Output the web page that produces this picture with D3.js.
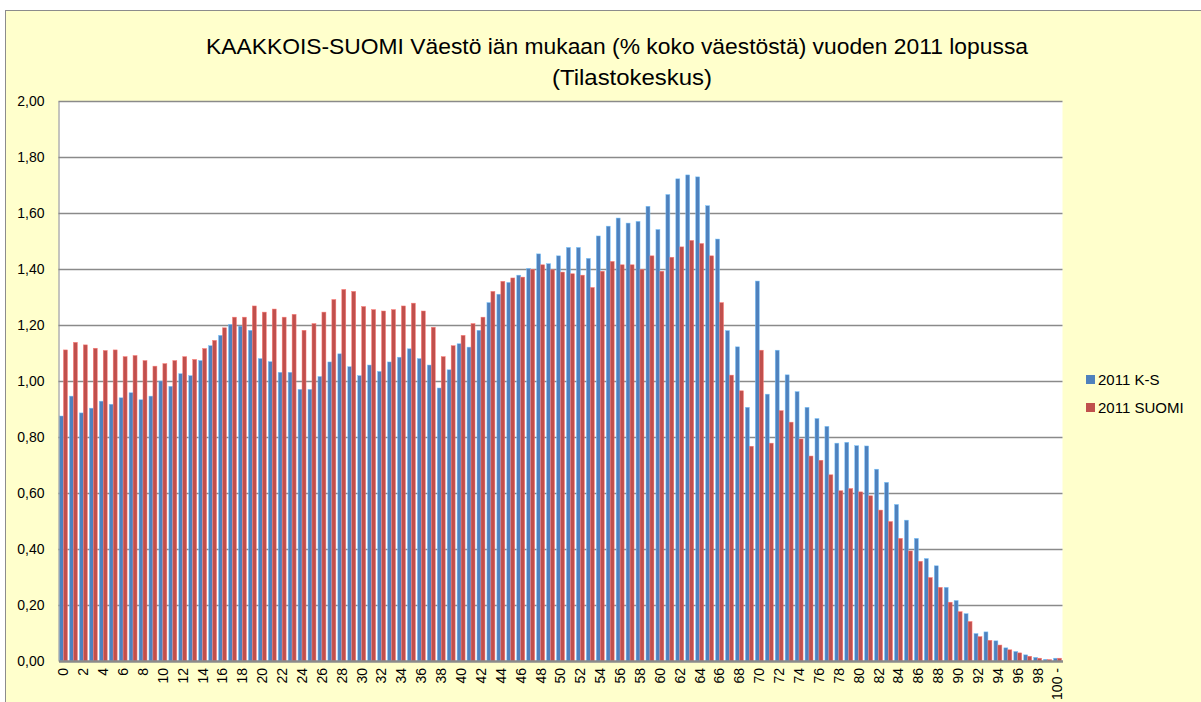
<!DOCTYPE html>
<html>
<head>
<meta charset="utf-8">
<script src="https://cdn.jsdelivr.net/npm/d3@7"></script>
<style>
  body { margin: 0; background: #fff; }
  text { font-family: "Liberation Sans", Arial, sans-serif; fill: #000; }
</style>
</head>
<body>
<div id="chart"></div>
<script>
"use strict";

const ages = d3.range(0, 101);
const ageLabels = ages.map(a => a === 100 ? "100 -" : String(a));

const seriesNames = ["2011 K-S", "2011 SUOMI"];

const valuesKS = [
  0.875, 0.946, 0.886, 0.903, 0.928, 0.917, 0.940, 0.958, 0.933, 0.946,
  1.000, 0.981, 1.026, 1.019, 1.073, 1.126, 1.163, 1.202, 1.196, 1.181,
  1.080, 1.069, 1.031, 1.031, 0.970, 0.970, 1.016, 1.068, 1.097, 1.051,
  1.019, 1.057, 1.034, 1.068, 1.085, 1.115, 1.080, 1.057, 0.975, 1.040,
  1.133, 1.121, 1.181, 1.280, 1.310, 1.352, 1.378, 1.402, 1.454, 1.419,
  1.447, 1.477, 1.477, 1.438, 1.518, 1.553, 1.582, 1.564, 1.570, 1.624,
  1.541, 1.666, 1.722, 1.736, 1.729, 1.626, 1.507, 1.180, 1.122, 0.906,
  1.357, 0.953, 1.110, 1.022, 0.962, 0.906, 0.866, 0.838, 0.778, 0.781,
  0.769, 0.768, 0.685, 0.638, 0.559, 0.503, 0.438, 0.366, 0.340, 0.263,
  0.216, 0.169, 0.098, 0.104, 0.072, 0.047, 0.034, 0.022, 0.013, 0.006,
  0.010
];

const valuesSuomi = [
  1.111, 1.138, 1.129, 1.117, 1.109, 1.111, 1.087, 1.091, 1.073, 1.053,
  1.062, 1.073, 1.087, 1.077, 1.116, 1.145, 1.190, 1.228, 1.228, 1.268,
  1.246, 1.257, 1.228, 1.238, 1.181, 1.205, 1.246, 1.291, 1.327, 1.320,
  1.266, 1.255, 1.250, 1.255, 1.268, 1.278, 1.250, 1.192, 1.087, 1.126,
  1.163, 1.205, 1.228, 1.320, 1.356, 1.368, 1.371, 1.398, 1.415, 1.397,
  1.389, 1.383, 1.378, 1.334, 1.392, 1.427, 1.415, 1.415, 1.398, 1.447,
  1.392, 1.442, 1.479, 1.502, 1.491, 1.447, 1.280, 1.021, 0.965, 0.767,
  1.110, 0.778, 0.894, 0.853, 0.793, 0.732, 0.717, 0.665, 0.608, 0.616,
  0.604, 0.590, 0.539, 0.498, 0.438, 0.393, 0.356, 0.298, 0.263, 0.210,
  0.176, 0.141, 0.087, 0.074, 0.057, 0.040, 0.029, 0.017, 0.010, 0.005,
  0.010
];

const yTicks = [0, 0.2, 0.4, 0.6, 0.8, 1.0, 1.2, 1.4, 1.6, 1.8, 2.0];

const colors = ["#4F81BD", "#C0504D"];
const titleLines = [
  "KAAKKOIS-SUOMI Väestö iän mukaan (% koko väestöstä) vuoden 2011 lopussa",
  "(Tilastokeskus)"
];

const W = 1201, H = 702;
const plot = { left: 58.5, right: 1062.5, top: 101, bottom: 661 };

const svg = d3.select("#chart")
  .append("svg")
  .attr("width", W)
  .attr("height", H);

// chart area
svg.append("rect")
  .attr("x", 5.5).attr("y", 10.5)
  .attr("width", W).attr("height", H)
  .attr("fill", "#FFFFCC")
  .attr("stroke", "#8c8c8c")
  .attr("stroke-width", 1);

svg.append("rect")
  .attr("x", plot.left).attr("y", plot.top)
  .attr("width", plot.right - plot.left)
  .attr("height", plot.bottom - plot.top)
  .attr("fill", "#fff");

const xScale = d3.scaleBand()
  .domain(ages)
  .range([plot.left, plot.right])
  .paddingInner(0.2)
  .paddingOuter(0.1);

const xSub = d3.scaleBand()
  .domain([0, 1])
  .range([0, xScale.bandwidth()]);

const yScale = d3.scaleLinear()
  .domain([0, 2])
  .range([plot.bottom, plot.top]);

// gridlines
svg.append("g")
  .selectAll("line")
  .data(yTicks.filter(t => t > 0))
  .enter()
  .append("line")
  .attr("x1", plot.left)
  .attr("x2", plot.right)
  .attr("y1", v => Math.round(yScale(v)) + 0.5)
  .attr("y2", v => Math.round(yScale(v)) + 0.5)
  .attr("stroke", "#8a8a8a")
  .attr("stroke-width", 1.3);

// bars
const series = [valuesKS, valuesSuomi];
series.forEach((vals, si) => {
  svg.append("g")
    .selectAll("rect")
    .data(ages)
    .enter()
    .append("rect")
    .attr("x", a => xScale(a) + xSub(si))
    .attr("width", xSub.bandwidth())
    .attr("y", a => yScale(vals[a]))
    .attr("height", a => plot.bottom - yScale(vals[a]))
    .attr("fill", colors[si])
    .attr("stroke", d3.color(colors[si]).brighter(1.2))
    .attr("stroke-width", 0.5);
});

// y axis
const yAxis = svg.append("g")
  .attr("transform", `translate(${plot.left}, 0)`)
  .call(d3.axisLeft(yScale)
    .tickValues(yTicks)
    .tickSize(0)
    .tickPadding(14)
    .tickFormat(v => d3.format(".2f")(v).replace(".", ",")));
yAxis.select(".domain").attr("stroke", "#8a8a8a");
yAxis.selectAll("text")
  .style("font-size", "14px")
  .attr("font-family", null);

// x axis
const xAxis = svg.append("g")
  .attr("transform", `translate(0, ${plot.bottom})`)
  .call(d3.axisBottom(xScale)
    .tickValues(ages.filter(a => a % 2 === 0))
    .tickSize(0)
    .tickFormat(a => ageLabels[a]));
xAxis.select(".domain").attr("stroke", "#8a8a8a").attr("stroke-width", 2.5);
xAxis.selectAll("text")
  .attr("transform", "rotate(-90)")
  .attr("text-anchor", "end")
  .attr("x", -7)
  .attr("y", 0)
  .attr("dy", "0.35em")
  .attr("font-family", null)
  .style("font-size", "14px");

// title
svg.append("text")
  .attr("x", 617)
  .attr("y", 54)
  .attr("text-anchor", "middle")
  .attr("textLength", 822)
  .attr("lengthAdjust", "spacingAndGlyphs")
  .style("font-size", "22px")
  .text(titleLines[0]);
svg.append("text")
  .attr("x", 632)
  .attr("y", 85)
  .attr("text-anchor", "middle")
  .attr("textLength", 160)
  .attr("lengthAdjust", "spacingAndGlyphs")
  .style("font-size", "22px")
  .text(titleLines[1]);

// legend
const legend = svg.append("g")
  .attr("transform", "translate(1086, 375)");
seriesNames.forEach((name, i) => {
  const g = legend.append("g").attr("transform", `translate(0, ${i * 28})`);
  g.append("rect")
    .attr("width", 9).attr("height", 9)
    .attr("fill", colors[i]);
  g.append("text")
    .attr("x", 12)
    .attr("y", 5)
    .attr("dy", "0.35em")
    .style("font-size", "15px")
    .text(name);
});
</script>
</body>
</html>
